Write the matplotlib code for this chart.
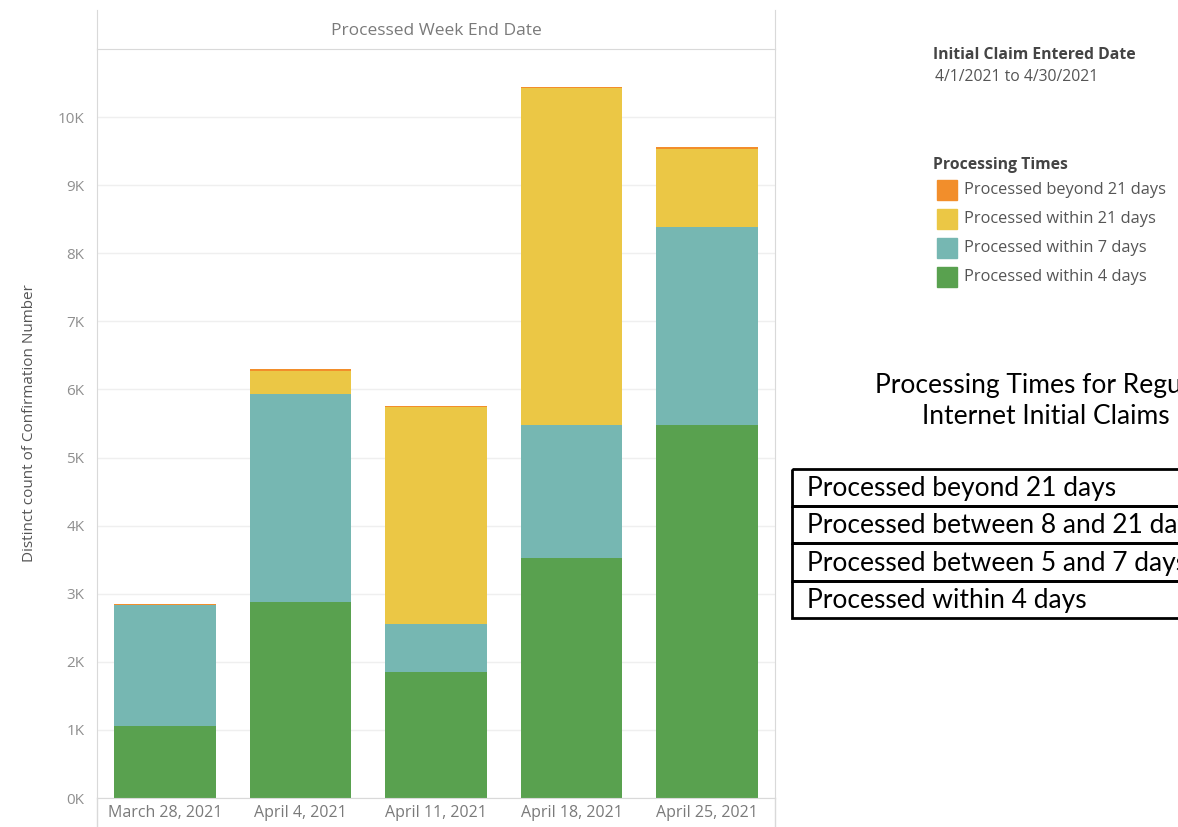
import numpy as np
import matplotlib.pyplot as plt
from matplotlib.patches import Rectangle

# week end dates (x categories)
weeks = ['March 28, 2021', 'April 4, 2021', 'April 11, 2021', 'April 18, 2021', 'April 25, 2021']

# stacked segments, bottom to top (claims)
within_4 = [1060, 2880, 1850, 3520, 5480]
within_7 = [1770, 3050, 700, 1960, 2900]
within_21 = [10, 340, 3190, 4940, 1150]
beyond_21 = [15, 25, 15, 20, 25]

series_names = ['Processed within 4 days', 'Processed within 7 days',
                'Processed within 21 days', 'Processed beyond 21 days']
series_colors = ['#59A14F', '#76B7B2', '#EBC745', '#F28E2B']

table_rows = ['Processed beyond 21 days', 'Processed between 8 and 21 days',
              'Processed between 5 and 7 days', 'Processed within 4 days']

yticks = np.arange(0, 11000, 1000)
ytick_labels = ['%dK' % (v // 1000) for v in yticks]

W, H = 1178, 827
fig = plt.figure(figsize=(W / 100, H / 100), dpi=100)
chart_font = 'Open Sans'
grid_c = '#d9d9d9'
tick_c = '#8f8f8f'

# main plot area
ax = fig.add_axes([97 / W, 1 - 798 / H, 678 / W, 749 / H])
x = np.arange(len(weeks))
bottom = np.zeros(len(weeks))
for vals, name, col in zip([within_4, within_7, within_21, beyond_21], series_names, series_colors):
    ax.bar(x, vals, 0.75, bottom=bottom, color=col, label=name, zorder=2)
    bottom += np.array(vals)

ax.set_xlim(-0.5, len(weeks) - 0.5)
ax.set_ylim(0, 11000)
ax.set_yticks(yticks)
ax.set_yticklabels(ytick_labels, fontfamily=chart_font, fontsize=11, color=tick_c)
ax.set_xticks(x)
ax.set_xticklabels(weeks, fontfamily=chart_font, fontsize=11.5, color='#7a7a7a')
ax.tick_params(axis='both', length=0)
ax.tick_params(axis='y', pad=9)
ax.tick_params(axis='x', pad=5)
ax.grid(axis='y', color='#efefef', lw=1, zorder=0)
for s in ['left', 'right', 'bottom']:
    ax.spines[s].set_color(grid_c)
ax.spines['top'].set_visible(False)
ax.set_ylabel('Distinct count of Confirmation Number', fontfamily=chart_font,
              fontsize=11, color='#555555', labelpad=15)

# header strip above the plot
hx = fig.add_axes([97 / W, 1 - 49 / H, 678 / W, 39 / H])
hx.set_xticks([])
hx.set_yticks([])
hx.spines['top'].set_visible(False)
for s in ['left', 'right', 'bottom']:
    hx.spines[s].set_color(grid_c)
hx.text(0.5, 0.45, 'Processed Week End Date', ha='center', va='center',
        fontfamily=chart_font, fontsize=12.5, color='#7a7a7a', transform=hx.transAxes)

# overlay in pixel coords for legend, title and table
ov = fig.add_axes([0, 0, 1, 1])
ov.set_xlim(0, W)
ov.set_ylim(H, 0)
ov.axis('off')

ov.plot([97, 97], [798, 827], color=grid_c, lw=1)
ov.plot([775, 775], [798, 827], color=grid_c, lw=1)

ov.text(933, 55, 'Initial Claim Entered Date', fontfamily=chart_font, fontsize=11.3,
        fontweight='bold', color='#444444', va='center')
ov.text(935, 77, '4/1/2021 to 4/30/2021', fontfamily=chart_font, fontsize=11.3,
        color='#555555', va='center')
ov.text(933, 165, 'Processing Times', fontfamily=chart_font, fontsize=11.3,
        fontweight='bold', color='#444444', va='center')
for i, (name, col) in enumerate(zip(series_names[::-1], series_colors[::-1])):
    yc = 190 + i * 29
    ov.add_patch(Rectangle((937, yc - 10), 20, 20, color=col))
    ov.text(964, yc, name, fontfamily=chart_font, fontsize=11.8, color='#555555', va='center')

ov.text(875, 385, 'Processing Times for Regular UI', fontfamily='Lato', fontsize=19,
        color='black', va='center')
ov.text(922, 416, 'Internet Initial Claims', fontfamily='Lato', fontsize=19,
        color='black', va='center')

row_top = 469
row_h = 37.2
for i, label in enumerate(table_rows):
    y0 = row_top + i * row_h
    ov.add_patch(Rectangle((792, y0), 500, row_h, fill=False, edgecolor='black', lw=2, clip_on=False))
    ov.text(807, y0 + row_h / 2 + 1, label, fontfamily='Lato', fontsize=19,
            color='black', va='center')

fig.savefig('out.png', dpi=100)
